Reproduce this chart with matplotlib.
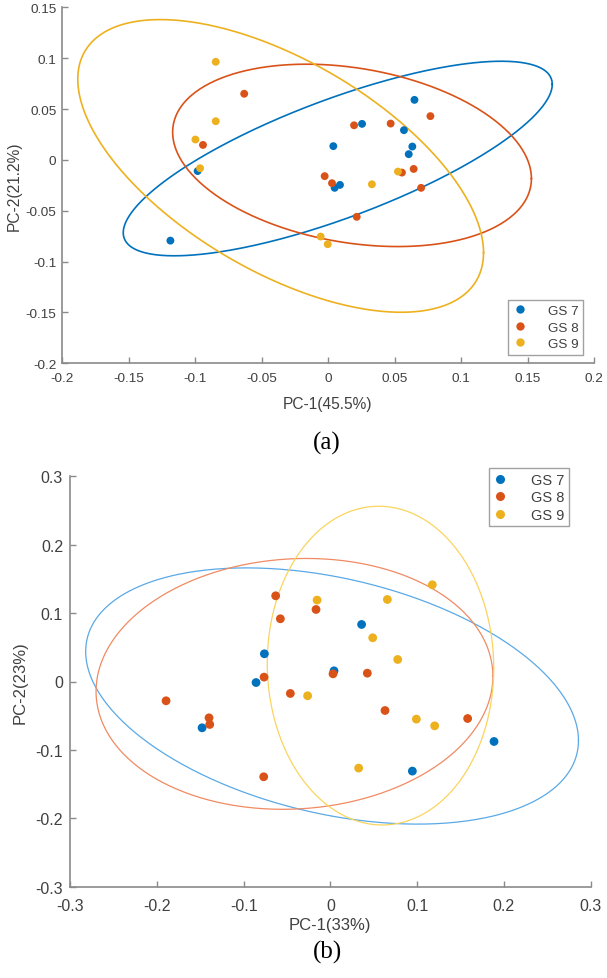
import numpy as np
import matplotlib
matplotlib.use("Agg")
import matplotlib.pyplot as plt
from matplotlib.lines import Line2D

plt.rcParams['font.family'] = ['Liberation Sans', 'DejaVu Sans']

# ---- panel (a) scores ----
a_gs7_x = [-0.1185, -0.098, 0.065, 0.0256, 0.0571, 0.004, 0.0634, 0.0607, 0.005, 0.009]
a_gs7_y = [-0.0794, -0.011, 0.059, 0.0354, 0.0292, 0.0135, 0.0131, 0.0056, -0.0275, -0.0246]
a_gs8_x = [-0.063, -0.094, 0.0196, 0.0471, 0.077, -0.0025, 0.003, 0.0556, 0.0644, 0.070, 0.0216]
a_gs8_y = [0.065, 0.0147, 0.034, 0.0357, 0.043, -0.016, -0.0229, -0.0125, -0.0089, -0.0275, -0.056]
a_gs9_x = [-0.0844, -0.0844, -0.0997, -0.0962, 0.033, 0.0526, -0.0055, -0.0002]
a_gs9_y = [0.0964, 0.038, 0.020, -0.0082, -0.024, -0.0115, -0.0754, -0.0829]

# ---- panel (b) scores ----
b_gs7_x = [-0.076, -0.0856, -0.1478, 0.036, 0.0042, 0.1886, 0.0945]
b_gs7_y = [0.0405, -0.0015, -0.0677, 0.0834, 0.0156, -0.0877, -0.131]
b_gs8_x = [-0.063, -0.0576, -0.0764, -0.0461, -0.1893, -0.0165, -0.1398, -0.139,
           -0.0768, 0.0031, 0.0426, 0.063, 0.1582]
b_gs8_y = [0.1253, 0.0917, 0.0064, -0.0175, -0.0282, 0.1053, -0.0531, -0.0628,
           -0.1393, 0.0112, 0.0122, -0.0424, -0.0541]
b_gs9_x = [-0.0262, -0.0153, 0.1175, 0.0657, 0.0488, 0.0776, 0.0991, 0.1202, 0.0326]
b_gs9_y = [-0.0209, 0.119, 0.1414, 0.1199, 0.0639, 0.0322, -0.055, -0.0648, -0.1266]

labels = ['GS 7', 'GS 8', 'GS 9']
dot_colors = ['#0072BD', '#D95319', '#EDB120']
b_line_colors = ['#5AA9E6', '#F08A62', '#FAD45E']

a_ticks = [-0.2, -0.15, -0.1, -0.05, 0, 0.05, 0.1, 0.15, 0.2]
a_yticks = [-0.2, -0.15, -0.1, -0.05, 0, 0.05, 0.1, 0.15]
a_ticklabels = ['-0.2', '-0.15', '-0.1', '-0.05', '0', '0.05', '0.1', '0.15', '0.2']
a_yticklabels = ['-0.2', '-0.15', '-0.1', '-0.05', '0', '0.05', '0.1', '0.15']
b_ticks = [-0.3, -0.2, -0.1, 0, 0.1, 0.2, 0.3]
b_ticklabels = ['-0.3', '-0.2', '-0.1', '0', '0.1', '0.2', '0.3']

K95 = np.sqrt(5.991)  # 95% confidence ellipse, 2 dof


def conf_ellipse(x, y, n=400):
    x = np.asarray(x); y = np.asarray(y)
    cov = np.cov(x, y)
    L = np.linalg.cholesky(cov)
    t = np.linspace(0, 2 * np.pi, n)
    circ = np.vstack([np.cos(t), np.sin(t)])
    pts = L @ circ * K95
    return x.mean() + pts[0], y.mean() + pts[1]


def style_axes(ax, tick_fs, pad_x, pad_y):
    for s in ['top', 'right']:
        ax.spines[s].set_visible(False)
    for s in ['left', 'bottom']:
        ax.spines[s].set_color('#8a8a8a')
        ax.spines[s].set_linewidth(1.2)
    ax.tick_params(axis='both', direction='in', length=4, width=1.0,
                   color='#8a8a8a', labelcolor='#404040', labelsize=tick_fs)
    ax.tick_params(axis='x', pad=pad_x)
    ax.tick_params(axis='y', pad=pad_y)


fig = plt.figure(figsize=(6.07, 9.79), dpi=100)

# ---------------- (a) ----------------
ax1 = fig.add_axes([62 / 607, 1 - 364.3 / 979, 532 / 607, 356 / 979])
a_sets = [(a_gs7_x, a_gs7_y), (a_gs8_x, a_gs8_y), (a_gs9_x, a_gs9_y)]
for (x, y), c in zip(a_sets, dot_colors):
    ex, ey = conf_ellipse(x, y)
    ax1.plot(ex, ey, color=c, lw=1.2, zorder=2)
for (x, y), c in zip(a_sets, dot_colors):
    ax1.scatter(x, y, s=32, color=c, edgecolors='none', zorder=3)
ax1.set_xlim(-0.2, 0.2)
ax1.set_ylim(-0.2, 0.15)
ax1.set_xticks(a_ticks)
ax1.set_xticklabels(a_ticklabels)
ax1.set_yticks(a_yticks)
ax1.set_yticklabels(a_yticklabels)
style_axes(ax1, 9.7, 6, 4)
ax1.set_xlabel('PC-1(45.5%)', fontsize=11.2, color='#404040')
ax1.set_ylabel('PC-2(21.2%)', fontsize=11.2, color='#404040')
ax1.xaxis.set_label_coords(0.5, -(405 - 364.3) / 356)
ax1.xaxis.label.set_va('center')
ax1.yaxis.set_label_coords((14 - 62) / 532, 0.5)
ax1.yaxis.label.set_va('center')
handles = [Line2D([], [], ls='none', marker='o', ms=6, color=c, mec='none') for c in dot_colors]
leg1 = ax1.legend(handles, labels, loc='lower right',
                  bbox_to_anchor=((583.3 - 62) / 532, (364.3 - 355.7) / 356),
                  fontsize=9.7, frameon=True, fancybox=False, handlelength=1.0,
                  handletextpad=1.6, labelspacing=0.3, borderpad=0.35,
                  borderaxespad=0, labelcolor='#404040')
leg1.get_frame().set_edgecolor('#8a8a8a')
leg1.get_frame().set_linewidth(1.0)
fig.text(327 / 607, 1 - 443 / 979, '(a)', ha='center', va='center',
         fontsize=18, family='Liberation Serif')

# ---------------- (b) ----------------
ax2 = fig.add_axes([70 / 607, 1 - 887.7 / 979, 520.7 / 607, 410.4 / 979])
b_sets = [(b_gs7_x, b_gs7_y), (b_gs8_x, b_gs8_y), (b_gs9_x, b_gs9_y)]
for (x, y), c in zip(b_sets, b_line_colors):
    ex, ey = conf_ellipse(x, y)
    ax2.plot(ex, ey, color=c, lw=0.9, zorder=2)
for (x, y), c in zip(b_sets, dot_colors):
    ax2.scatter(x, y, s=40, color=c, edgecolors='none', zorder=3)
ax2.set_xlim(-0.3, 0.3)
ax2.set_ylim(-0.3, 0.3)
ax2.set_xticks(b_ticks)
ax2.set_xticklabels(b_ticklabels)
ax2.set_yticks(b_ticks)
ax2.set_yticklabels(b_ticklabels)
style_axes(ax2, 11.5, 8, 5)
ax2.set_xlabel('PC-1(33%)', fontsize=12, color='#404040')
ax2.set_ylabel('PC-2(23%)', fontsize=12, color='#404040')
ax2.xaxis.set_label_coords(0.5, -(926 - 887.7) / 410.4)
ax2.xaxis.label.set_va('center')
ax2.yaxis.set_label_coords((20 - 70) / 520.7, 0.5)
ax2.yaxis.label.set_va('center')
handles = [Line2D([], [], ls='none', marker='o', ms=6.5, color=c, mec='none') for c in dot_colors]
leg2 = ax2.legend(handles, labels, loc='upper right',
                  bbox_to_anchor=((568.7 - 70) / 520.7, (887.7 - 469.3) / 410.4),
                  fontsize=10.5, frameon=True, fancybox=False, handlelength=1.0,
                  handletextpad=1.6, labelspacing=0.25, borderpad=0.3,
                  borderaxespad=0, labelcolor='#404040')
leg2.get_frame().set_edgecolor('#8a8a8a')
leg2.get_frame().set_linewidth(1.0)
fig.text(328 / 607, 1 - 952 / 979, '(b)', ha='center', va='center',
         fontsize=18, family='Liberation Serif')

fig.savefig('out.png', dpi=100)
